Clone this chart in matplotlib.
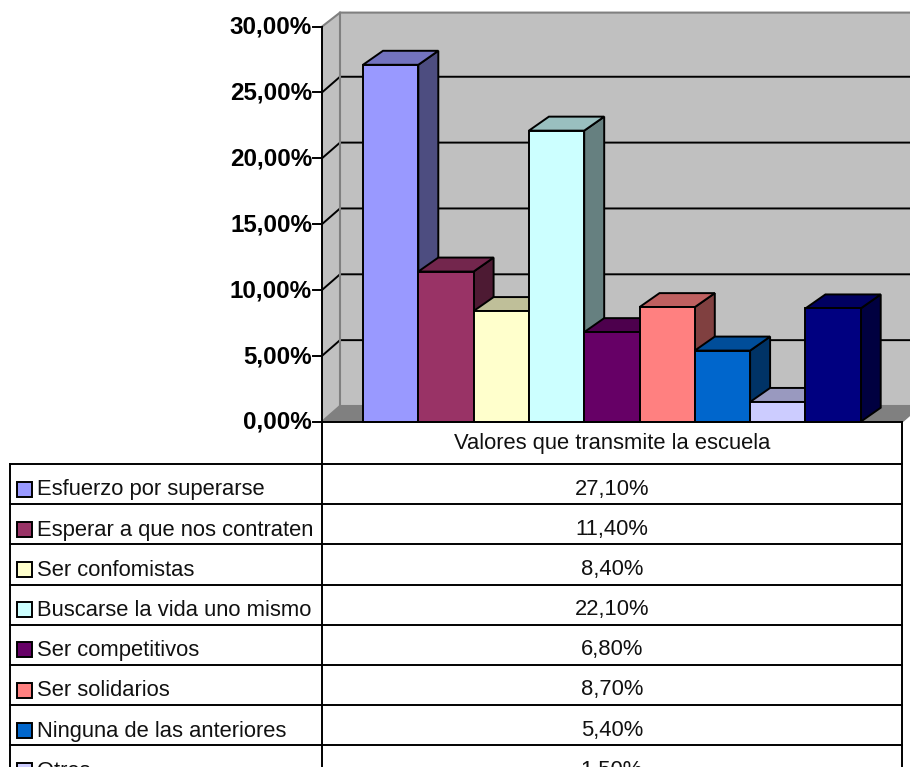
import matplotlib
matplotlib.use("Agg")
import matplotlib.pyplot as plt
from matplotlib.patches import Polygon, Rectangle
from matplotlib.colors import to_rgb

plt.rcParams['font.family'] = ['Liberation Sans', 'DejaVu Sans']

# ---- data ----
categories = ["Esfuerzo por superarse", "Esperar a que nos contraten", "Ser confomistas",
              "Buscarse la vida uno mismo", "Ser competitivos", "Ser solidarios",
              "Ninguna de las anteriores", "Otros", "NS/NC"]
values = [27.1, 11.4, 8.4, 22.1, 6.8, 8.7, 5.4, 1.5, 8.6]
colors = ["#9999FF", "#993366", "#FFFFCC", "#CCFFFF", "#660066", "#FF8080",
          "#0066CC", "#CCCCFF", "#000080"]
y_ticks = [0, 5, 10, 15, 20, 25, 30]
y_labels = ["0,00%", "5,00%", "10,00%", "15,00%", "20,00%", "25,00%", "30,00%"]
table_header = "Valores que transmite la escuela"
value_labels = ["27,10%", "11,40%", "8,40%", "22,10%", "6,80%", "8,70%", "5,40%", "1,50%"]

W, H = 910, 767
fig = plt.figure(figsize=(W/100, H/100), dpi=100)

Y0, PXV = 421.7, 13.17     # pixel of value 0, px per unit
X0, PXC = 363.0, 55.3      # left edge of first bar, px per bar
BDX, BDY = 20.0, 14.0      # depth of bars in px
WDX, WDY = 18.0, 15.7      # depth of walls in px

ax = fig.add_axes([0, 0, 1, 1])
ax.set_xlim((0 - X0)/PXC, (W - X0)/PXC)
ax.set_ylim((Y0 - H)/PXV, Y0/PXV)
ax.axis('off')
bdx, bdy = BDX/PXC, BDY/PXV
wdx, wdy = WDX/PXC, WDY/PXV
LEFT = (322 - X0)/PXC
RIGHT = (902 - X0)/PXC
FAR = RIGHT + wdx*1.5
top = y_ticks[-1]
topb = top + bdy   # back wall is cut at this height

# walls
ax.add_patch(Polygon([(LEFT+wdx, wdy), (FAR, wdy), (FAR, topb), (LEFT+wdx, topb)],
                     fc="#C0C0C0", ec="none", zorder=1))
ax.add_patch(Polygon([(LEFT, 0), (LEFT+wdx, wdy), (LEFT+wdx, topb), (LEFT, top)],
                     fc="#C0C0C0", ec="none", zorder=1))
ax.add_patch(Polygon([(LEFT, 0), (LEFT+wdx, wdy), (RIGHT+wdx, wdy), (RIGHT, 0)],
                     fc="#808080", ec="none", zorder=1))
for t in y_ticks[1:-1]:
    ax.plot([LEFT, LEFT+wdx, FAR], [t, t+wdy, t+wdy], color="black", lw=1.4, zorder=2,
            solid_joinstyle='miter')
ax.plot([LEFT, LEFT+wdx, FAR], [top, topb, topb], color="#808080", lw=1.5, zorder=2)
ax.plot([LEFT, LEFT+wdx, LEFT+wdx], [0, wdy, topb], color="#808080", lw=1.5, zorder=2)
ax.plot([LEFT+wdx, RIGHT+wdx], [wdy, wdy], color="#808080", lw=1.5, zorder=2)
ax.plot([RIGHT, RIGHT+wdx], [0, wdy], color="#808080", lw=1.5, zorder=2)


def shade(c, f):
    return tuple(v*f for v in to_rgb(c))


# bars (left to right so later bars cover earlier depth faces)
z = 3
for i, (v, c) in enumerate(zip(values, colors)):
    ax.add_patch(Polygon([(i+1, 0), (i+1+bdx, bdy), (i+1+bdx, v+bdy), (i+1, v)],
                         fc=shade(c, 0.5), ec="black", lw=1.4, zorder=z, joinstyle='miter'))
    ax.add_patch(Polygon([(i, v), (i+bdx, v+bdy), (i+1+bdx, v+bdy), (i+1, v)],
                         fc=shade(c, 0.75), ec="black", lw=1.4, zorder=z, joinstyle='miter'))
    ax.bar(i+0.5, v, width=1, color=c, edgecolor="black", linewidth=1.4, zorder=z)
    z += 1

# value axis
ax.plot([LEFT, LEFT], [(Y0-H)/PXV, top], color="black", lw=1.4, zorder=20)
TICK = 9/PXC
for t, lab in zip(y_ticks, y_labels):
    ax.plot([LEFT-TICK, LEFT], [t, t], color="black", lw=1.4, zorder=20)
    ax.text(LEFT-TICK-1/PXC, t-0.05, lab, ha="right", va="center", fontsize=17.4,
            fontweight="bold", color="black", zorder=20)
ax.plot([LEFT, RIGHT], [0, 0], color="black", lw=1.4, zorder=20)

# data table (pixel coordinates overlay)
tb = fig.add_axes([0, 0, 1, 1])
tb.set_xlim(0, W)
tb.set_ylim(H, 0)
tb.axis('off')
tb.patch.set_alpha(0)
MID, TR, TL = 322, 902, 10
RT0, RH = 464, 40.2
FS = 15.8
tb.plot([TR, TR], [422, H], color="black", lw=1.4)
tb.plot([TL, TR], [RT0, RT0], color="black", lw=1.4)
tb.plot([TL, TL], [RT0, H], color="black", lw=1.4)
tb.text((MID+TR)/2, 443, table_header, ha="center", va="center", fontsize=FS, color="#111111")
for i, (cat, lab, c) in enumerate(zip(categories, value_labels, colors)):
    ytop = RT0 + i*RH
    ybot = ytop + RH
    tb.plot([TL, TR], [ybot, ybot], color="black", lw=1.4)
    ym = ytop + 25
    tb.add_patch(Rectangle((16.5, ym-7.5), 15, 15, fc=c, ec="black", lw=1.4))
    tb.text(37, ym+1, cat, ha="left", va="center", fontsize=FS, color="#111111", clip_on=True)
    tb.text((MID+TR)/2, ym, lab, ha="center", va="center", fontsize=FS, color="#111111", clip_on=True)

fig.savefig("out.png", dpi=100)
